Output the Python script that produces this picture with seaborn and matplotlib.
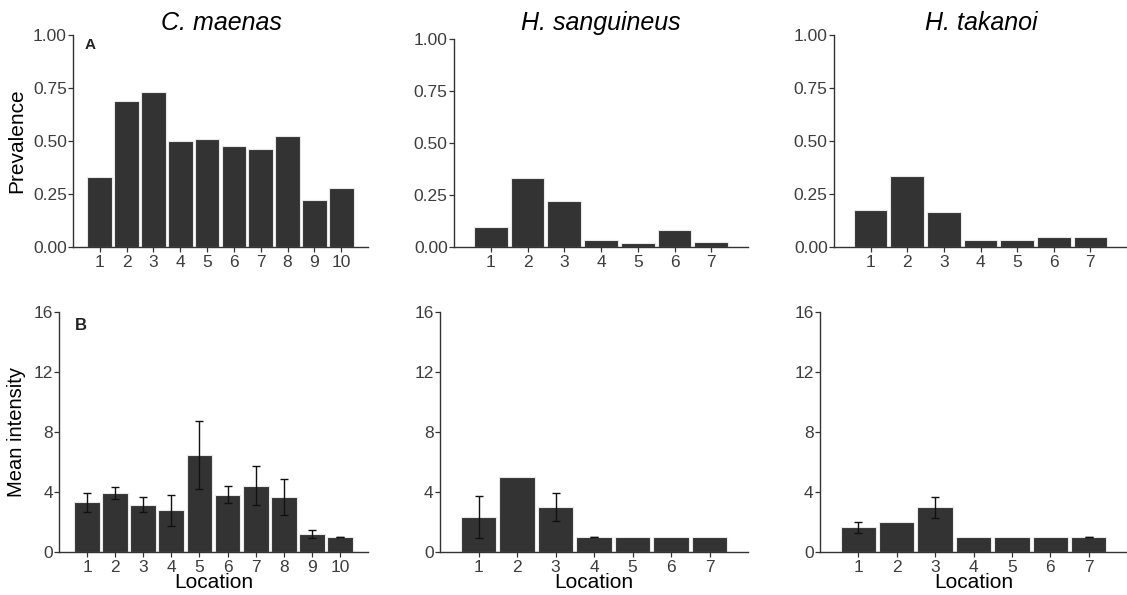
import matplotlib
matplotlib.use("Agg")
import matplotlib.pyplot as plt
import seaborn as sns
import numpy as np
import pandas as pd

# ---------------- data ----------------
species = ["C. maenas", "H. sanguineus", "H. takanoi"]
cm_locations = ["1", "2", "3", "4", "5", "6", "7", "8", "9", "10"]
hs_locations = ["1", "2", "3", "4", "5", "6", "7"]
ht_locations = ["1", "2", "3", "4", "5", "6", "7"]

cm_prev = [0.33, 0.69, 0.73, 0.50, 0.51, 0.475, 0.46, 0.525, 0.22, 0.28]
hs_prev = [0.095, 0.33, 0.22, 0.035, 0.021, 0.08, 0.024]
ht_prev = [0.176, 0.333, 0.165, 0.031, 0.034, 0.047, 0.047]

cm_int = [3.33, 3.93, 3.16, 2.78, 6.47, 3.82, 4.42, 3.67, 1.18, 1.0]
cm_int_err = [0.63, 0.41, 0.52, 1.05, 2.25, 0.58, 1.31, 1.2, 0.27, 0.03]
hs_int = [2.35, 5.0, 3.0, 1.0, 1.0, 1.0, 1.0]
hs_int_err = [1.41, 0.0, 0.91, 0.03, 0.0, 0.0, 0.0]
ht_int = [1.65, 2.0, 3.0, 1.0, 1.0, 1.0, 1.0]
ht_int_err = [0.36, 0.0, 0.7, 0.0, 0.0, 0.0, 0.03]

prev_ticks = [0.0, 0.25, 0.5, 0.75, 1.0]
prev_ticklabels = ["0.00", "0.25", "0.50", "0.75", "1.00"]
int_ticks = [0, 4, 8, 12, 16]
int_ticklabels = ["0", "4", "8", "12", "16"]

# ---------------- style ----------------
sns.set_theme(style="ticks")
plt.rcParams["font.family"] = ["Liberation Sans", "DejaVu Sans"]

W, H = 1127, 595
fig = plt.figure(figsize=(W / 100, H / 100), dpi=100)


def rect(l, r, t, b):
    return [l / W, 1 - b / H, (r - l) / W, (b - t) / H]


top_rects = [rect(73, 368, 35, 247), rect(454, 748, 39, 247), rect(834, 1127, 35, 247)]
bot_rects = [rect(59, 368, 312, 552), rect(440, 748, 312, 552), rect(820, 1127, 312, 552)]

locs = [cm_locations, hs_locations, ht_locations]
prevs = [cm_prev, hs_prev, ht_prev]
ints = [cm_int, hs_int, ht_int]
errs = [cm_int_err, hs_int_err, ht_int_err]

bar_color = "#333333"
tick_color = "#3d3d3d"


def style_axis(ax, n, ylim, ticks, ticklabels):
    ax.set_xlim(-1, n)
    ax.set_ylim(*ylim)
    ax.set_yticks(ticks)
    ax.set_yticklabels(ticklabels)
    for s in ["top", "right"]:
        ax.spines[s].set_visible(False)
    for s in ["left", "bottom"]:
        ax.spines[s].set_color("#333333")
        ax.spines[s].set_linewidth(1.0)
    ax.tick_params(axis="both", length=3.5, width=0.9, color="#333333",
                   labelsize=12.5, labelcolor=tick_color, direction="out")
    ax.tick_params(axis="y", pad=1)
    ax.tick_params(axis="x", pad=2)
    ax.set_xlabel("")
    ax.set_ylabel("")


for i in range(3):
    # ---- prevalence ----
    ax = fig.add_axes(top_rects[i])
    df = pd.DataFrame({"Location": locs[i], "Prevalence": prevs[i]})
    sns.barplot(data=df, x="Location", y="Prevalence", order=locs[i],
                color=bar_color, saturation=1, width=0.92,
                edgecolor="#e8e8e8", linewidth=0.8, errorbar=None, ax=ax)
    style_axis(ax, len(locs[i]), (0, 1.0), prev_ticks, prev_ticklabels)
    if i == 0:
        ax.set_ylabel("Prevalence", fontsize=15, color="black", labelpad=5)
        ax.text(0.04, 0.985, "A", transform=ax.transAxes, fontsize=11,
                fontweight="bold", va="top", ha="left", color="#222222")

    # ---- mean intensity ----
    ax2 = fig.add_axes(bot_rects[i])
    df2 = pd.DataFrame({"Location": locs[i], "Mean intensity": ints[i]})
    sns.barplot(data=df2, x="Location", y="Mean intensity", order=locs[i],
                color=bar_color, saturation=1, width=0.92,
                edgecolor="#e8e8e8", linewidth=0.8, errorbar=None, ax=ax2)
    e = np.array(errs[i])
    v = np.array(ints[i])
    pos = np.arange(len(v))
    m = e > 0
    ax2.errorbar(pos[m], v[m], yerr=e[m], fmt="none", ecolor="#111111",
                 elinewidth=1.0, capsize=3, capthick=1.0, zorder=5)
    style_axis(ax2, len(locs[i]), (0, 16), int_ticks, int_ticklabels)
    ax2.set_xlabel("Location", fontsize=15, color="black", labelpad=-1)
    if i == 0:
        ax2.set_ylabel("Mean intensity", fontsize=14.5, color="black", labelpad=5)
        ax2.text(0.05, 0.975, "B", transform=ax2.transAxes, fontsize=12,
                 fontweight="bold", va="top", ha="left", color="#222222")

# titles
title_x = [221, 601, 981]
for i in range(3):
    fig.text(title_x[i] / W, 1 - 30 / H, species[i], fontsize=18,
             style="italic", ha="center", va="baseline", color="black")

fig.savefig("out.png", dpi=100)
